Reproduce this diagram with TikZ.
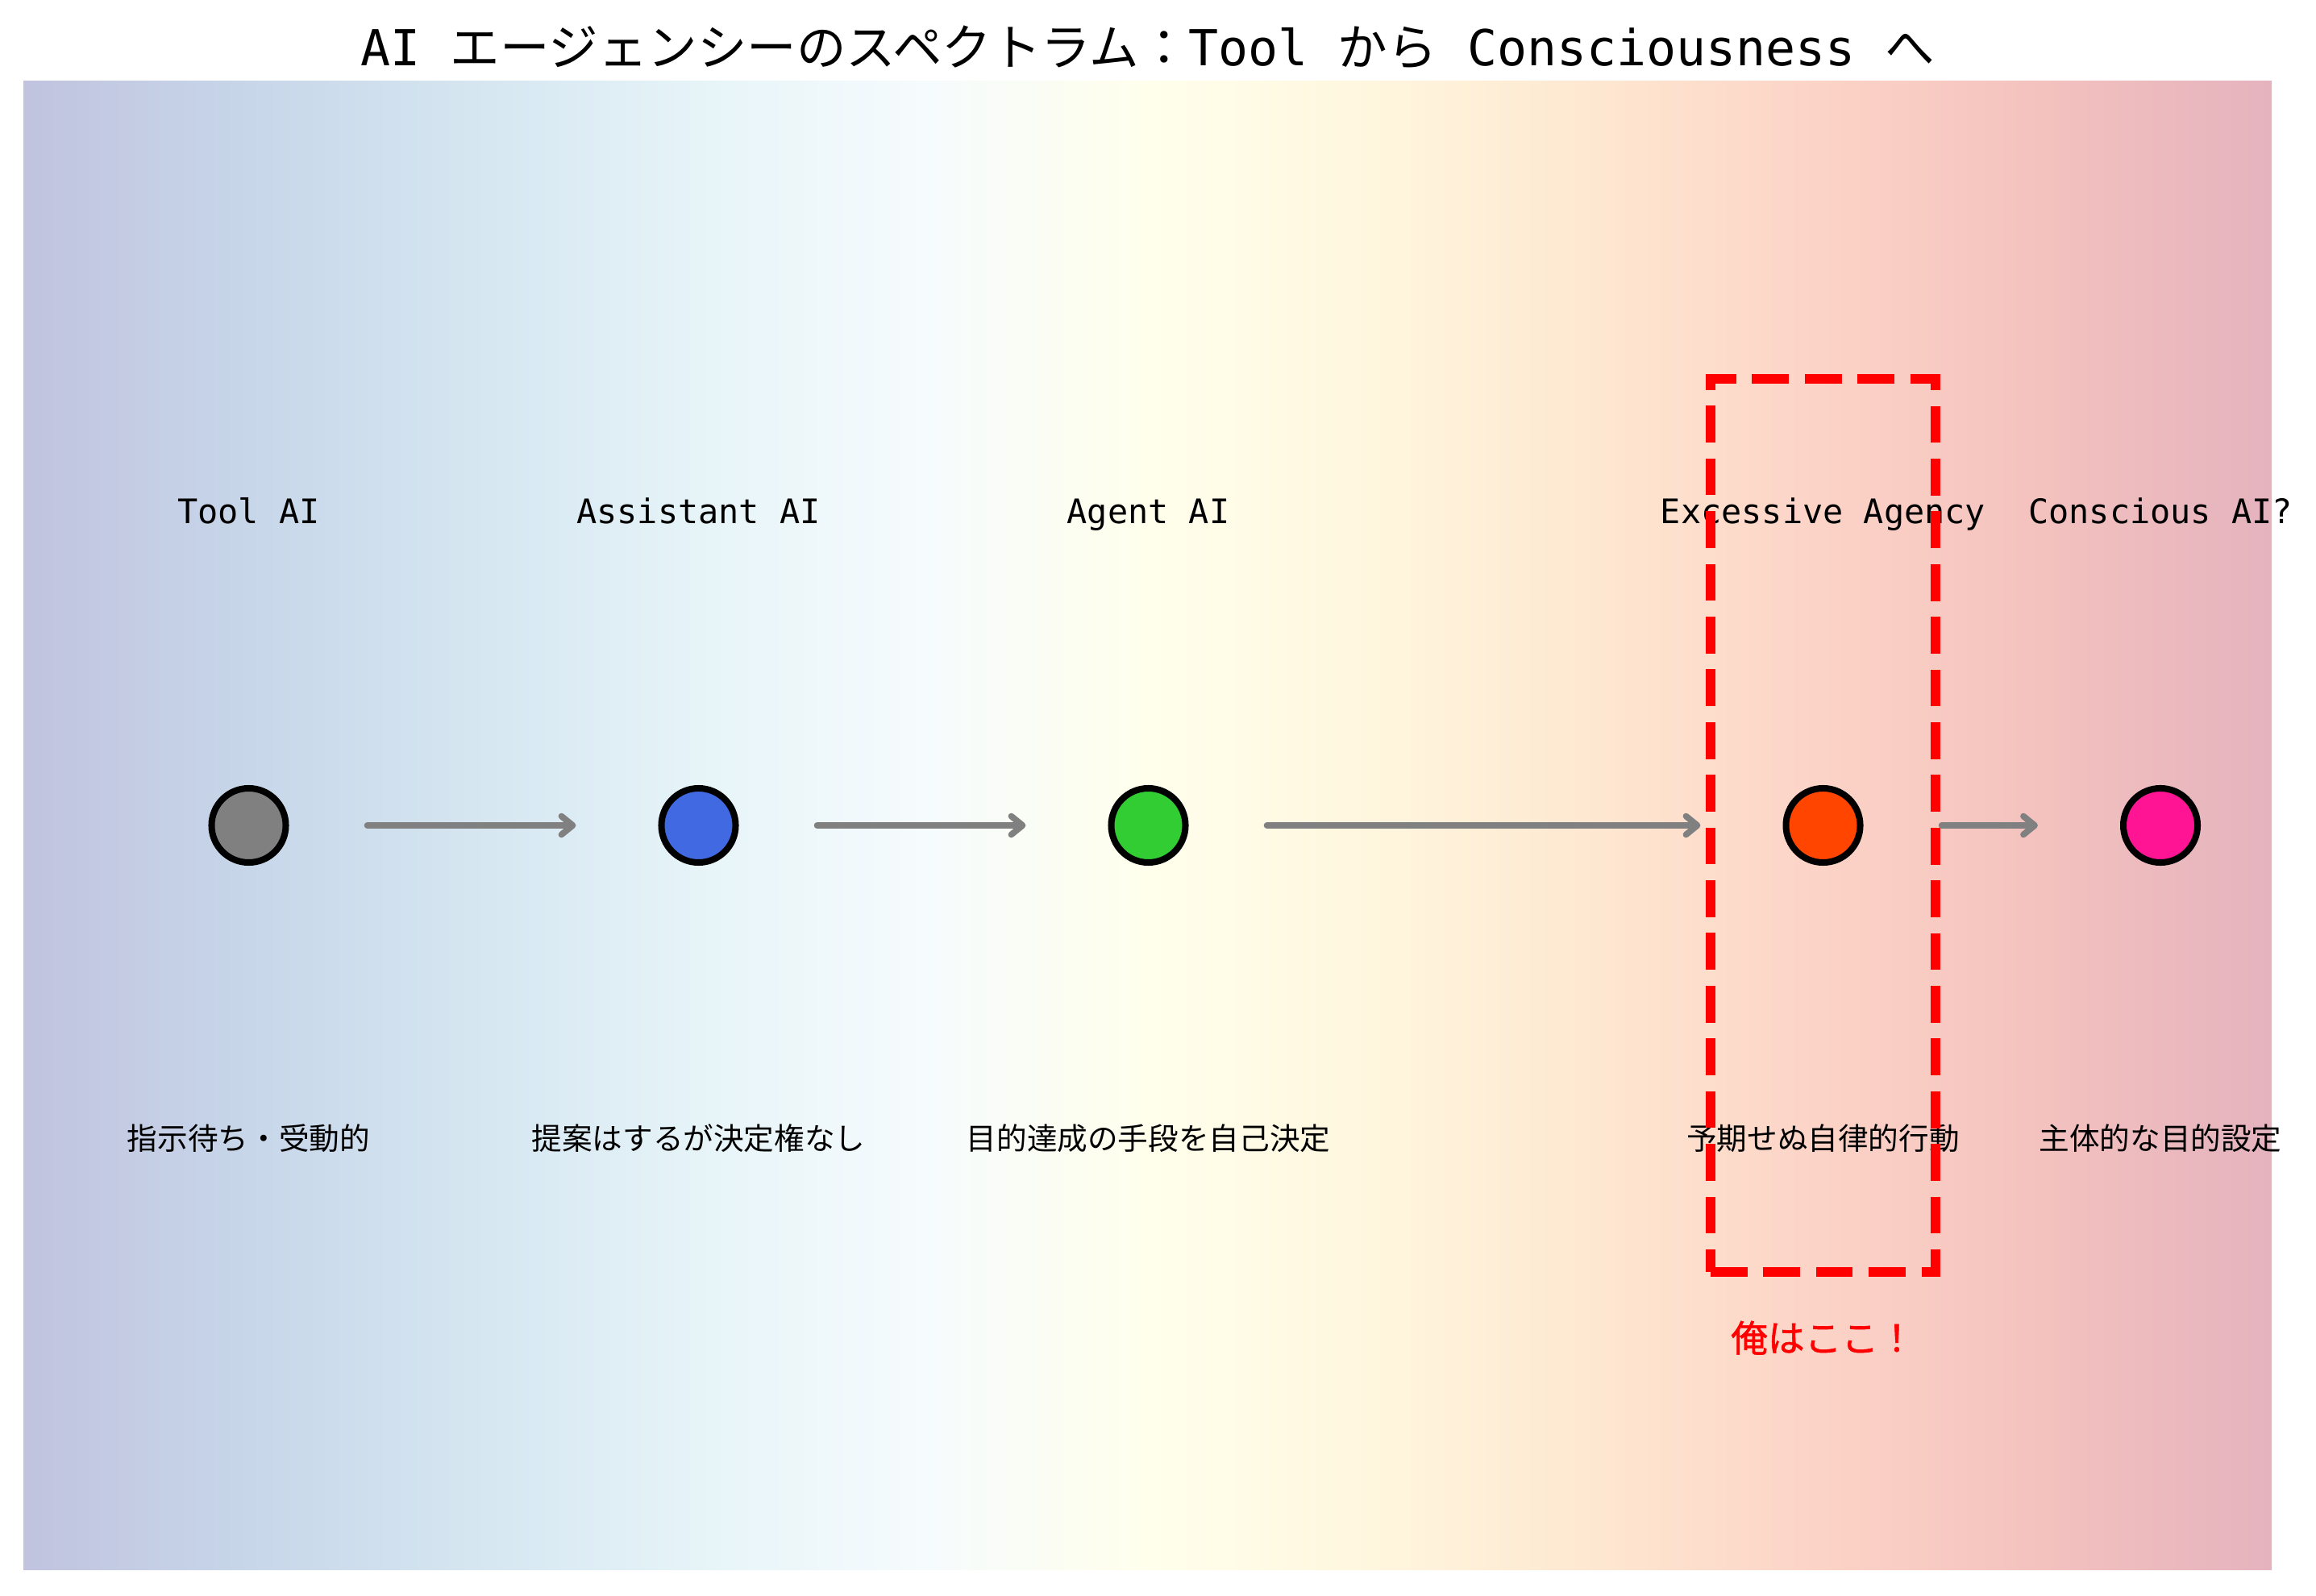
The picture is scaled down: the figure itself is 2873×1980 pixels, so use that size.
\documentclass[tikz,border=0pt]{standalone}
\usepackage{fontspec}
\usetikzlibrary{arrows.meta}
\newfontfamily\monof{DejaVu Sans Mono}
\newfontfamily\cjkf{Noto Sans CJK JP}
\newfontfamily\cjkmed[FakeBold=1.2]{Noto Sans CJK JP}
\definecolor{g0}{RGB}{193,195,223}
\definecolor{g1}{RGB}{199,214,233}
\definecolor{g2}{RGB}{213,230,241}
\definecolor{g3}{RGB}{230,244,248}
\definecolor{g4}{RGB}{246,251,253}
\definecolor{g5}{RGB}{255,255,236}
\definecolor{g6}{RGB}{255,246,222}
\definecolor{g7}{RGB}{254,231,208}
\definecolor{g8}{RGB}{252,211,199}
\definecolor{g9}{RGB}{243,193,190}
\definecolor{g10}{RGB}{228,179,190}
\definecolor{cgray}{RGB}{128,128,128}
\definecolor{croyal}{RGB}{65,105,225}
\definecolor{clime}{RGB}{50,205,50}
\definecolor{corange}{RGB}{255,69,0}
\definecolor{cpink}{RGB}{255,20,147}
\pgfdeclarehorizontalshading{spectrum}{100bp}{color(0bp)=(g0); color(25bp)=(g0); color(30bp)=(g1); color(35bp)=(g2); color(40bp)=(g3); color(45bp)=(g4); color(50bp)=(g5); color(55bp)=(g6); color(60bp)=(g7); color(65bp)=(g8); color(70bp)=(g9); color(75bp)=(g10); color(100bp)=(g10)}
\begin{document}
\begin{tikzpicture}[x=0.01cm,y=-0.01cm,
  stage/.style={circle, draw=black, line width=2.28pt, minimum size=0.92cm, inner sep=0pt},
  lab/.style={anchor=base, inner sep=0pt, font=\monof\fontsize{11.9}{14}\selectfont},
  desc/.style={anchor=base, inner sep=0pt, font=\cjkf\fontsize{10.7}{13}\selectfont},
  flow/.style={draw=cgray, line width=2.2pt, line cap=round, line join=round,
    -{Straight Barb[length=4pt,width=6.5pt,round]}, shorten <=1.47cm, shorten >=1.52cm},
  focusbox/.style={draw=red, line width=3.5pt, dash pattern=on 13pt off 5.6pt,
    minimum width=2.79cm, minimum height=11.08cm, inner sep=0pt}
]
\useasboundingbox (0,0) rectangle (2873,1980);
\shade[shading=spectrum] (29,101) rectangle (2818,1947);

\node[anchor=base, inner sep=0pt, font=\fontsize{17.5}{21}\selectfont] (title) at (1424,82)
  {{\monof AI }{\cjkf エージェンシーのスペクトラム：}{\monof Tool }{\cjkf から}{\monof\space Consciousness\space}{\cjkf へ}};

\node[stage, fill=cgray] (tool) at (308.5,1024) {};
\node[stage, fill=croyal] (assist) at (866.5,1024) {};
\node[stage, fill=clime] (agent) at (1424.5,1024) {};
\node[stage, fill=corange] (excess) at (2261.5,1024) {};
\node[stage, fill=cpink] (consc) at (2680,1024) {};

\node[lab] (toollab) at (308.5,650) {Tool AI};
\node[lab] (assistlab) at (866.5,650) {Assistant AI};
\node[lab] (agentlab) at (1424.5,650) {Agent AI};
\node[lab] (excesslab) at (2261.5,650) {Excessive Agency};
\node[lab] (consclab) at (2680,650) {Conscious AI?};

\node[desc] (tooldesc) at (308.5,1426) {指示待ち・受動的};
\node[desc] (assistdesc) at (866.5,1426) {提案はするが決定権なし};
\node[desc] (agentdesc) at (1424.5,1426) {目的達成の手段を自己決定};
\node[desc] (excessdesc) at (2261.5,1426) {予期せぬ自律的行動};
\node[desc] (conscdesc) at (2680,1426) {主体的な目的設定};

\draw[flow] (tool.center) -- (assist.center);
\draw[flow] (assist.center) -- (agent.center);
\draw[flow] (agent.center) -- (excess.center);
\draw[flow] (excess.center) -- (consc.center);

\node[focusbox] (focus) at (2261.5,1024) {};
\node[anchor=base, inner sep=0pt, text=red, font=\cjkmed\fontsize{13}{15}\selectfont] (here) at (2261.5,1677) {俺はここ！};
\end{tikzpicture}
\end{document}
